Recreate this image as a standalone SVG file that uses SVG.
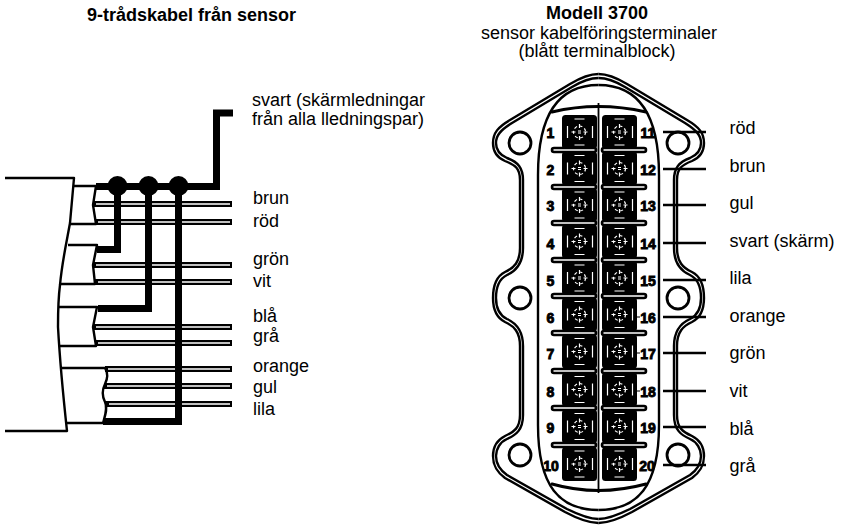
<svg xmlns="http://www.w3.org/2000/svg" width="841" height="525" viewBox="0 0 841 525">
<style>
text{font-family:"Liberation Sans",Arial,sans-serif;font-size:18px;fill:#000}
.b{font-weight:bold}
.n{font-weight:bold;font-size:14px;text-anchor:middle;stroke:#000;stroke-width:.9px}
.t{fill:none;stroke:#000;stroke-width:2.4;stroke-linejoin:round}
.h{fill:none;stroke:#000;stroke-width:7}
.wo{fill:none;stroke:#000;stroke-width:6}
.wi{fill:none;stroke:#fff;stroke-width:1.5}
.lead{fill:none;stroke:#000;stroke-width:2.4}
.tick{fill:none;stroke:#000;stroke-width:1.2}
.bar{fill:#fff;stroke:#000;stroke-width:2.6}
.hole{fill:#fff;stroke:#000;stroke-width:2.8}
.c{fill:none;stroke:#fff;stroke-width:1.2}
</style>
<defs>
<g id="cell">
<rect x="-17.500" y="-17" width="35" height="34" rx="3.500" fill="#000"/>
<path class="c" d="M-5,-13H5M-5,13H5M-12,-6V6M13,-6V6M0,-8V-4M0,4V8M-8,0H-4M4,0H8M-1.500,-1H1.500M-1.500,1H1.500"/>
<circle class="c" r="6" stroke-dasharray="3 2.500"/>
</g>
<g id="halfbody">
<path class="t" d="M598.500,74C590,74 580,78 570,84L510,120C498,127 493,133 493,143C493,152 498,158 505,161C515,165 520,168 520,180V248C520,262 514,268 505,272C497,276 493,285 493,298C493,310 497,318 505,322C514,326 520,332 520,346V415C520,428 514,432 505,436C497,440 493,447 493,456C493,466 497,472 505,478L565,512C580,520 590,523 598.500,523"/>
<path class="t" d="M598.500,78C591,78 582,81 572,87L512,123C501,130 496,135 496,143C496,150 500,155 507,158C518,162 523,168 523,180V248C523,264 516,271 507,275C499,279 496,287 496,298C496,308 499,315 507,319C516,323 523,330 523,346V415C523,430 516,435 507,439C500,442 496,449 496,456C496,464 500,470 507,475L567,509C581,516 591,519 598.500,519"/>
<path class="t" d="M598.500,85C565,85 538,105 538,175V425C538,487 560,510 598.500,510"/>
</g>
</defs>

<g id="title-left"><text class="b" x="87" y="20.500">9-trådskabel från sensor</text></g>
<g id="title-right">
<text class="b" x="597" y="19" text-anchor="middle">Modell 3700</text>
<text x="599" y="39" text-anchor="middle">sensor kabelföringsterminaler</text>
<text x="597" y="57" text-anchor="middle">(blått terminalblock)</text>
</g>

<g id="cable">
<path class="t" d="M5,178H74L70,223C67,240 62,262 60,285C58,300 58,320 58,327C59,345 62,385 67,431H5"/>
<path class="t" d="M73,186H96L93,205L96,224H70"/>
<path class="t" d="M68,245H97L93,265L95,284H61"/>
<path class="t" d="M58,307H97L93,327L96,346H60"/>
<path class="t" d="M60,368H105C108,373 108,378 105,384C102,390 102,396 105,402C108,408 105,416 103,423H66"/>
</g>

<g id="wires">
<path class="wo" d="M93,204H232M95,222H232M93,265H232M95,282H232M93,327H232M95,343H232M105,369H232M104,386H232M106,404H232"/>
<path class="wi" d="M96,204H230M98,222H230M96,265H230M98,282H230M96,327H230M98,343H230M108,369H230M107,386H230M109,404H230"/>
</g>

<g id="connectors">
<path class="h" d="M96,186.500H216.500V113H233"/>
<path class="h" d="M117.500,186V249.500H97"/>
<path class="h" d="M148.500,186V308.500H98"/>
<path class="h" d="M178.500,186V421.500H103"/>
<circle cx="117.500" cy="186" r="10"/>
<circle cx="148.500" cy="186" r="10"/>
<circle cx="178.500" cy="186" r="10"/>
</g>

<g id="wire-labels">
<text x="252" y="105.500">svart (skärmledningar</text>
<text x="252" y="124.500">från alla lledningspar)</text>
<text x="253" y="204">brun</text>
<text x="253" y="226.500">röd</text>
<text x="253" y="265">grön</text>
<text x="253" y="286.500">vit</text>
<text x="253" y="321.500">blå</text>
<text x="253" y="341.500">grå</text>
<text x="253" y="371.500">orange</text>
<text x="253" y="393">gul</text>
<text x="253" y="415">lila</text>
</g>

<g id="terminal-body">
<use href="#halfbody"/>
<use href="#halfbody" transform="matrix(-1 0 0 1 1197 0)"/>
<circle class="hole" cx="520" cy="143" r="11"/><circle class="hole" cx="678" cy="143" r="11"/>
<circle class="hole" cx="520" cy="298" r="11"/><circle class="hole" cx="678" cy="298" r="11"/>
<circle class="hole" cx="520" cy="455" r="11"/><circle class="hole" cx="678" cy="455" r="11"/>
<path d="M552,112Q598,101 646,112" fill="none" stroke="#000" stroke-width="3" stroke-linecap="round"/>
<path d="M552,484Q598,497 646,484" fill="none" stroke="#000" stroke-width="3" stroke-linecap="round"/>
<path d="M598.500,103V493" fill="none" stroke="#000" stroke-width="1.800"/>
<g>
<rect class="bar" x="552" y="148" width="44" height="4" rx="2"/><rect class="bar" x="602" y="148" width="44" height="4" rx="2"/>
<rect class="bar" x="552" y="185" width="44" height="4" rx="2"/><rect class="bar" x="602" y="185" width="44" height="4" rx="2"/>
<rect class="bar" x="552" y="221" width="44" height="4" rx="2"/><rect class="bar" x="602" y="221" width="44" height="4" rx="2"/>
<rect class="bar" x="552" y="258" width="44" height="4" rx="2"/><rect class="bar" x="602" y="258" width="44" height="4" rx="2"/>
<rect class="bar" x="552" y="294" width="44" height="4" rx="2"/><rect class="bar" x="602" y="294" width="44" height="4" rx="2"/>
<rect class="bar" x="552" y="331" width="44" height="4" rx="2"/><rect class="bar" x="602" y="331" width="44" height="4" rx="2"/>
<rect class="bar" x="552" y="369" width="44" height="4" rx="2"/><rect class="bar" x="602" y="369" width="44" height="4" rx="2"/>
<rect class="bar" x="552" y="406" width="44" height="4" rx="2"/><rect class="bar" x="602" y="406" width="44" height="4" rx="2"/>
<rect class="bar" x="552" y="443" width="44" height="4" rx="2"/><rect class="bar" x="602" y="443" width="44" height="4" rx="2"/>
</g>
</g>

<g id="leads">
<path class="lead" d="M663,132H706M663,169H706M663,205H706M663,243H706M663,280H706M663,317H706M663,353H706M663,391H706M663,427H706M663,465H706"/>
<path class="tick" d="M630,317H640M630,353H640M630,391H640"/>
</g>

<g id="t1"><use href="#cell" x="579.500" y="132"/><text class="n" x="550.500" y="138">1</text></g>
<g id="t2"><use href="#cell" x="579.500" y="168.500"/><text class="n" x="550.500" y="175">2</text></g>
<g id="t3"><use href="#cell" x="579.500" y="205"/><text class="n" x="550.500" y="211">3</text></g>
<g id="t4"><use href="#cell" x="579.500" y="241.500"/><text class="n" x="550.500" y="249">4</text></g>
<g id="t5"><use href="#cell" x="579.500" y="278"/><text class="n" x="550.500" y="286">5</text></g>
<g id="t6"><use href="#cell" x="579.500" y="314.500"/><text class="n" x="550.500" y="323">6</text></g>
<g id="t7"><use href="#cell" x="579.500" y="351.500"/><text class="n" x="550.500" y="359">7</text></g>
<g id="t8"><use href="#cell" x="579.500" y="389.500"/><text class="n" x="550.500" y="397">8</text></g>
<g id="t9"><use href="#cell" x="579.500" y="426.500"/><text class="n" x="550.500" y="433">9</text></g>
<g id="t10"><use href="#cell" x="579.500" y="464"/><text class="n" x="551" y="471">10</text></g>
<g id="t11"><use href="#cell" x="619.500" y="132"/><text class="n" x="648" y="138">11</text></g>
<g id="t12"><use href="#cell" x="619.500" y="168.500"/><text class="n" x="648" y="175">12</text></g>
<g id="t13"><use href="#cell" x="619.500" y="205"/><text class="n" x="648" y="211">13</text></g>
<g id="t14"><use href="#cell" x="619.500" y="241.500"/><text class="n" x="648" y="249">14</text></g>
<g id="t15"><use href="#cell" x="619.500" y="278"/><text class="n" x="648" y="286">15</text></g>
<g id="t16"><use href="#cell" x="619.500" y="314.500"/><text class="n" x="648" y="323">16</text></g>
<g id="t17"><use href="#cell" x="619.500" y="351.500"/><text class="n" x="648" y="359">17</text></g>
<g id="t18"><use href="#cell" x="619.500" y="389.500"/><text class="n" x="648" y="397">18</text></g>
<g id="t19"><use href="#cell" x="619.500" y="426.500"/><text class="n" x="648" y="433">19</text></g>
<g id="t20"><use href="#cell" x="619.500" y="464"/><text class="n" x="647" y="471">20</text></g>

<g id="terminal-labels">
<text x="729.500" y="134">röd</text>
<text x="729.500" y="172">brun</text>
<text x="729.500" y="208.500">gul</text>
<text x="729.500" y="246.500">svart (skärm)</text>
<text x="729.500" y="284">lila</text>
<text x="729.500" y="321.500">orange</text>
<text x="729.500" y="359">grön</text>
<text x="729.500" y="396.500">vit</text>
<text x="729.500" y="435">blå</text>
<text x="729.500" y="471.500">grå</text>
</g>
</svg>
